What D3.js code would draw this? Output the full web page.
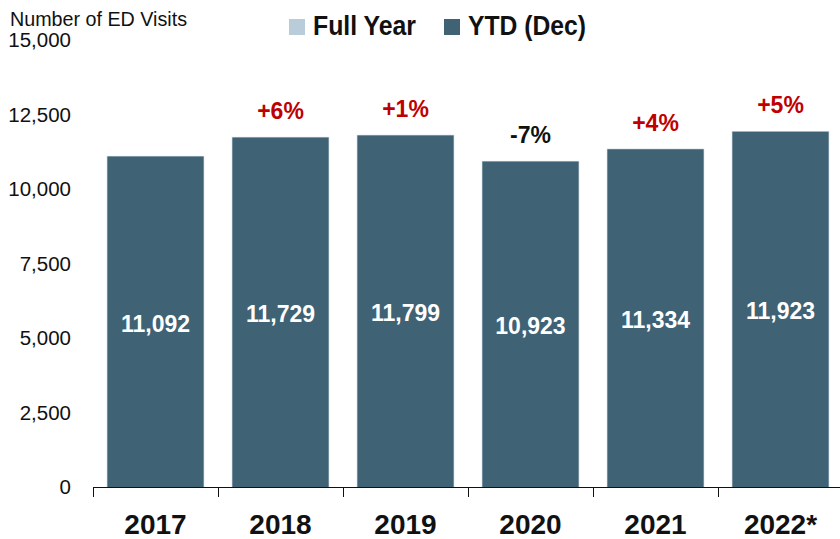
<!DOCTYPE html>
<html><head><meta charset="utf-8">
<script src="https://cdn.jsdelivr.net/npm/d3@7"></script>
<style>
body{margin:0;background:#fff;}
svg{display:block;}
text{font-family:"Liberation Sans",Arial,sans-serif;}
</style></head>
<body>
<svg id="chart" width="840" height="539"></svg>
<script>
const years = ["2017","2018","2019","2020","2021","2022*"];
const ytdValues = [11092, 11729, 11799, 10923, 11334, 11923];
const fullYearValues = [11092, 11729, 11799, 10923, 11334, 11923];
const changeLabels = ["", "+6%", "+1%", "-7%", "+4%", "+5%"];
const yTicks = [0, 2500, 5000, 7500, 10000, 12500, 15000];
const legendItems = ["Full Year", "YTD (Dec)"];

const barColor = "#406275";
const fullColor = "#b8cdd9";
const svg = d3.select("#chart");
const x = d3.scaleBand().domain(years).range([93, 843]).paddingInner(0.23).paddingOuter(0.115);
const y = d3.scaleLinear().domain([0, 15000]).range([487, 40]);

// full-year bars (behind, barely visible edge)
svg.append("g").selectAll("rect").data(fullYearValues).join("rect")
  .attr("x", (d,i)=>x(years[i])-0.6).attr("width", x.bandwidth()+1.2)
  .attr("y", d=>y(d)-0.6).attr("height", d=>y(0)-y(d)+0.6).attr("fill", "#c9d7e0");

// YTD bars
svg.append("g").selectAll("rect").data(ytdValues).join("rect")
  .attr("x", (d,i)=>x(years[i])).attr("width", x.bandwidth())
  .attr("y", d=>y(d)).attr("height", d=>y(0)-y(d)).attr("fill", barColor);

// value labels
svg.append("g").selectAll("text").data(ytdValues).join("text")
  .attr("x", (d,i)=>x(years[i])+x.bandwidth()/2)
  .attr("y", d=>(y(d)+y(0))/2+10)
  .attr("text-anchor","middle").attr("fill","#fff")
  .style("font-size","23px").style("font-weight","bold")
  .text(d=>d3.format(",")(d));

// change labels
svg.append("g").selectAll("text").data(changeLabels).join("text")
  .attr("x", (d,i)=>x(years[i])+x.bandwidth()/2)
  .attr("y", (d,i)=>y(ytdValues[i])-18.5)
  .attr("text-anchor","middle")
  .attr("fill", d=>d.startsWith("-") ? "#111" : "#c00000")
  .style("font-size","23px").style("font-weight","bold")
  .text(d=>d);

// y axis
const yAxis = d3.axisLeft(y).tickValues(yTicks).tickFormat(d3.format(",")).tickSize(0).tickPadding(0);
const gy = svg.append("g").attr("transform","translate(71,0)").call(yAxis);
gy.select(".domain").remove();
gy.selectAll("text").style("font-size","20.5px").attr("fill","#111").style("font-family",null);

// x axis
const xAxis = d3.axisBottom(x).tickSize(0).tickPadding(27);
const gx = svg.append("g").attr("transform","translate(0,487)").call(xAxis);
gx.select(".domain").attr("stroke","#111").attr("d","M93.5,0.5H843");
gx.selectAll("text").style("font-size","28px").style("font-weight","bold").attr("fill","#111").style("font-family",null);
const bounds = years.map((d,i)=>93+i*x.step()).concat([93+6*x.step()]);
svg.append("g").selectAll("line").data(bounds).join("line")
  .attr("x1", d=>Math.round(d)+0.5).attr("x2", d=>Math.round(d)+0.5)
  .attr("y1",487).attr("y2",497).attr("stroke","#111");

// title
const title = svg.append("text").attr("x",10).attr("y",26).text("Number of ED Visits")
  .style("font-size","21px").attr("fill","#111");
title.attr("textLength", 177).attr("lengthAdjust","spacingAndGlyphs");

// legend
const lg = svg.append("g");
const legendX = [289, 444];
const legendW = [103, 118];
const legendColors = [fullColor, barColor];
legendItems.forEach((t,i)=>{
  lg.append("rect").attr("x",legendX[i]).attr("y",19).attr("width",16).attr("height",16).attr("fill",legendColors[i]);
  lg.append("text").attr("x",legendX[i]+24).attr("y",35).text(t)
    .style("font-size","28px").style("font-weight","bold").attr("fill","#111")
    .attr("textLength", legendW[i]).attr("lengthAdjust","spacingAndGlyphs");
});
</script>
</body></html>
